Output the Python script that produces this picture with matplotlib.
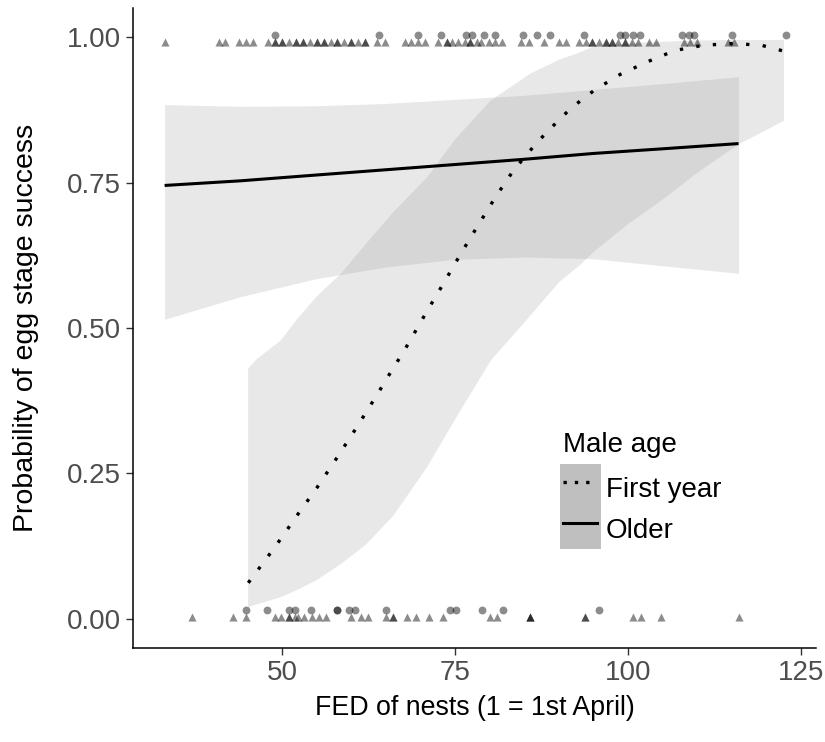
import matplotlib
matplotlib.use("Agg")
import matplotlib.pyplot as plt
from matplotlib.patches import Patch
from matplotlib.lines import Line2D
from matplotlib.legend_handler import HandlerTuple

plt.rcParams['font.family'] = ['Liberation Sans', 'DejaVu Sans']

# fitted curve, first year males
fy_x = [45.1, 48.3, 49.7, 52.4, 55.0, 57.7, 60.6, 63.5, 66.1, 67.5, 70.9, 73.1,
        75.8, 78.2, 80.9, 83.4, 86.5, 88.3, 91.6, 93.4, 95.3, 98.9, 102.9,
        106.8, 110.9, 115.2, 119.3, 122.5]
fy_y = [0.062, 0.113, 0.136, 0.182, 0.225, 0.273, 0.326, 0.381, 0.432, 0.458,
        0.528, 0.572, 0.627, 0.674, 0.726, 0.770, 0.814, 0.837, 0.876, 0.893,
        0.910, 0.936, 0.958, 0.977, 0.986, 0.989, 0.986, 0.976]

# confidence band, first year males
fy_band_x = [45.0, 46.3, 49.7, 52.0, 55.0, 58.4, 62.0, 66.0, 70.9, 75.0, 80.1,
             85.8, 90.0, 93.1, 95.0, 100.0, 105.0, 110.0, 116.0, 122.5]
fy_lo = [0.021, 0.026, 0.038, 0.050, 0.068, 0.095, 0.128, 0.178, 0.262, 0.345,
         0.445, 0.522, 0.580, 0.610, 0.632, 0.680, 0.722, 0.768, 0.817, 0.857]
fy_hi = [0.431, 0.448, 0.479, 0.515, 0.556, 0.594, 0.645, 0.700, 0.760, 0.826,
         0.892, 0.938, 0.962, 0.975, 0.985, 0.990, 0.993, 0.995, 0.996, 0.996]

# fitted curve and band, older males
old_x = [33.0, 44.0, 55.0, 65.0, 75.0, 85.0, 95.0, 105.0, 116.0]
old_y = [0.745, 0.753, 0.763, 0.772, 0.781, 0.790, 0.800, 0.808, 0.817]
old_lo = [0.515, 0.554, 0.585, 0.605, 0.618, 0.622, 0.619, 0.607, 0.594]
old_hi = [0.884, 0.881, 0.882, 0.886, 0.893, 0.900, 0.910, 0.920, 0.932]

# nests (success = 1 / 0), circles and triangles
circ_1 = [48.9, 64.0, 69.7, 72.9, 76.6, 77.5, 79.2, 80.8, 84.9, 86.9, 88.8,
          93.6, 98.9, 99.6, 100.8, 101.8, 107.8, 108.8, 109.5, 115.1, 122.8]
tri_1 = [33.0, 40.8, 41.8, 43.8, 44.8, 45.8,
         48, 49, 50, 51, 52, 53, 54, 55, 56, 57, 58, 59, 60, 61, 62,
         49, 50, 52, 53, 55, 56, 58, 60, 62,
         63.7, 64.9, 67.7, 68.6, 69.6, 70.7, 72.6, 73.8, 73.8, 74.6, 75.5,
         76.5, 77.2, 77.2, 78.2, 78.7, 79.9, 80.8, 81.8, 84.5, 85.7, 87.8,
         90.0, 91.0, 92.9, 93.9, 94.8, 95.8, 96.8, 97.7, 98.6, 99.6, 100.6,
         101.5, 94.8, 96.8, 97.7, 99.6, 103.0, 104.0, 108.1, 109.0, 110.0,
         114.5, 115.3]
circ_0 = [44.8, 47.8, 51.0, 51.9, 54.2, 57.9, 57.9, 59.7, 60.5, 65.0, 74.2,
          75.1, 78.9, 82.0, 95.8]
tri_0 = [37.0, 42.9, 44.8, 48.9, 49.9, 51.0, 51.0, 51.8, 52.3, 53.2, 54.3,
         55.3, 56.3, 59.9, 61.4, 62.4, 65.0, 66.1, 66.1, 68.1, 69.3, 71.2,
         73.3, 80.0, 81.0, 85.9, 85.9, 85.9, 93.8, 93.8, 100.8, 101.9, 104.8,
         116.0]

band_col = '#999999'
key_col = '#bfbfbf'
dotted = (0, (1, 4))

fig = plt.figure(figsize=(8.25, 7.42), dpi=100)
ax = fig.add_axes([0.1618, 0.1267, 0.8273, 0.8625])

ax.fill_between(fy_band_x, fy_lo, fy_hi, color=band_col, alpha=0.225, lw=0)
ax.fill_between(old_x, old_lo, old_hi, color=band_col, alpha=0.225, lw=0)

pt = dict(color='black', alpha=0.45, lw=0)
ax.scatter(circ_1, [1.004] * len(circ_1), marker='o', s=32, **pt)
ax.scatter(tri_1, [0.992] * len(tri_1), marker='^', s=34, **pt)
ax.scatter(circ_0, [0.015] * len(circ_0), marker='o', s=32, **pt)
ax.scatter(tri_0, [0.003] * len(tri_0), marker='^', s=34, **pt)

ax.plot(fy_x, fy_y, color='black', lw=2.4, linestyle=dotted)
ax.plot(old_x, old_y, color='black', lw=2.2, solid_capstyle='butt')

ax.set_xlim(28.5, 127.2)
ax.set_ylim(-0.05, 1.05)
ax.set_xticks([50, 75, 100, 125])
ax.set_yticks([0, 0.25, 0.5, 0.75, 1.0])
ax.set_yticklabels(['0.00', '0.25', '0.50', '0.75', '1.00'])

for s in ['top', 'right']:
    ax.spines[s].set_visible(False)
for s in ['left', 'bottom']:
    ax.spines[s].set_linewidth(1.1)
ax.tick_params(length=5, width=1, color='#333333', labelsize=20,
               labelcolor='#4d4d4d', pad=4)

ax.set_xlabel('FED of nests (1 = 1st April)', fontsize=19.3, labelpad=6)
ax.set_ylabel('Probability of egg stage success', fontsize=20.5)
ax.yaxis.set_label_coords(-0.139, 0.5)

# key patches get a thick edge of the same grey so the two keys join up
h_fy = (Patch(facecolor=key_col, edgecolor=key_col, lw=5),
        Line2D([], [], color='black', lw=2.4, linestyle=(0, (1, 2.4))))
h_old = (Patch(facecolor=key_col, edgecolor=key_col, lw=5),
         Line2D([], [], color='black', lw=2.2))
leg = ax.legend([h_fy, h_old], ['First year', 'Older'], title='Male age',
                handler_map={tuple: HandlerTuple(ndivide=1, ypad=0.18)},
                loc='upper left', bbox_to_anchor=(0.630, 0.338),
                frameon=False, fontsize=20, title_fontsize=20,
                handlelength=1.22, handleheight=1.9, labelspacing=0,
                handletextpad=0.3, borderpad=0, borderaxespad=0,
                alignment='left')
# a little room between the legend title and the keys
leg._legend_box.sep = 7

fig.savefig('out.png', dpi=100)
